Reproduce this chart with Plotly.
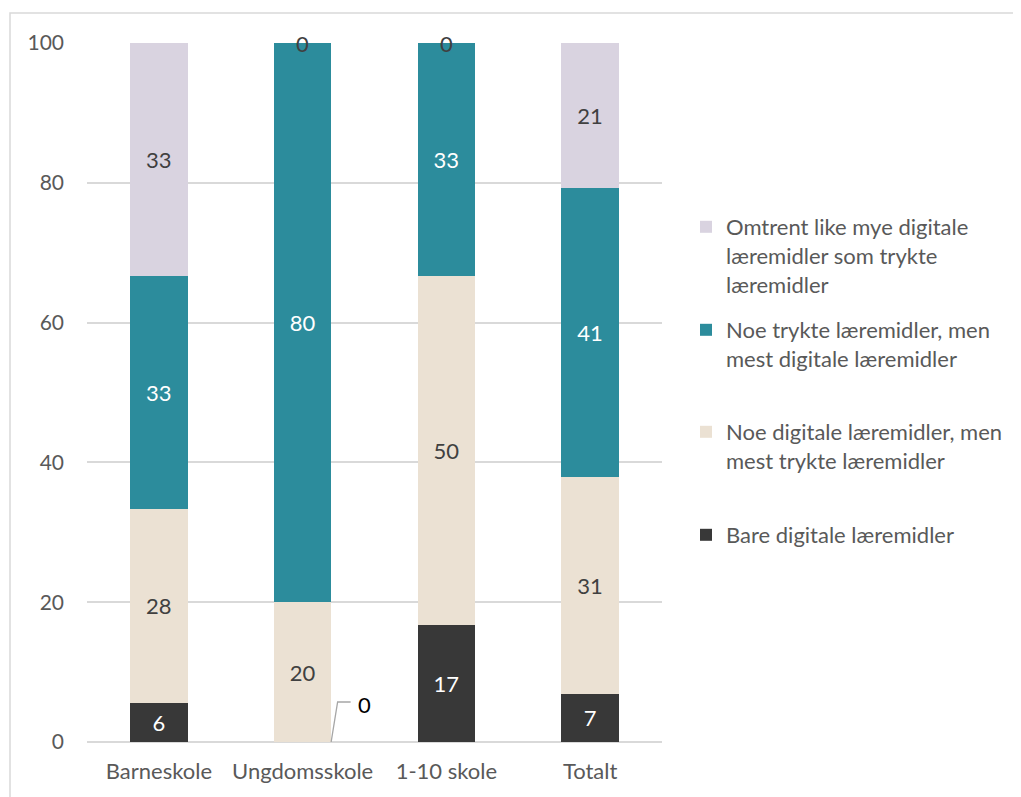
import plotly.graph_objects as go

categories = ["Barneskole", "Ungdomsskole", "1-10 skole", "Totalt"]

bare_digitale = [5.6, 0.0, 16.7, 6.9]
noe_digitale = [27.8, 20.0, 50.0, 31.0]
noe_trykte = [33.3, 80.0, 33.3, 41.4]
omtrent_like = [33.3, 0.0, 0.0, 20.7]

series_names = [
    "Bare digitale læremidler",
    "Noe digitale læremidler, men<br>mest trykte læremidler",
    "Noe trykte læremidler, men<br>mest digitale læremidler",
    "Omtrent like mye digitale<br>læremidler som trykte<br>læremidler",
]
series_values = [bare_digitale, noe_digitale, noe_trykte, omtrent_like]
series_colors = ["#383838", "#EBE1D3", "#2C8C9C", "#D9D3E0"]
label_colors = ["#FFFFFF", "#404040", "#FFFFFF", "#404040"]
legend_ids = ["legend4", "legend3", "legend2", "legend"]

FONT = "Lato"
GREY = "#595959"
OFF = 8  # page body margin

fig = go.Figure()
for name, vals, col, lcol, lid in zip(series_names, series_values, series_colors, label_colors, legend_ids):
    fig.add_trace(go.Bar(
        x=categories, y=vals, name=name,
        marker=dict(color=col, line=dict(width=0)),
        text=[f"{v:.0f}" if v > 0 else "" for v in vals],
        textposition="inside", insidetextanchor="middle", textangle=0,
        constraintext="none",
        textfont=dict(family=FONT, size=22, color=lcol),
        width=0.4, legend=lid,
    ))

# zero-value labels
cum = [0.0] * len(categories)
for si, vals in enumerate(series_values):
    for ci, v in enumerate(vals):
        if v == 0:
            if si == 0:
                fig.add_annotation(x=categories[ci], y=cum[ci], text="0", showarrow=False,
                                   xshift=62, yshift=38,
                                   font=dict(family=FONT, size=22, color="#000000"))
                fig.add_shape(type="path", xref="x", yref="y", xsizemode="pixel", ysizemode="pixel",
                              xanchor=categories[ci], yanchor=cum[ci],
                              path="M 28.5,0 L 35,40 L 48,40",
                              line=dict(color="#A6A6A6", width=1.3))
            else:
                fig.add_annotation(x=categories[ci], y=cum[ci], text="0", showarrow=False,
                                   font=dict(family=FONT, size=22, color="#404040"))
        cum[ci] += v

# outer chart border
fig.add_shape(type="rect", xref="paper", yref="paper",
              x0=(10 - 87) / 575, x1=(1019 - 87) / 575,
              y0=(742 - 810) / 699, y1=(742 - 13) / 699,
              line=dict(color="#D9D9D9", width=1.5), fillcolor="rgba(0,0,0,0)", layer="below")

def leg(ypix):
    return dict(x=(686 - 87) / 575, y=(742 - ypix) / 699, xanchor="left", yanchor="top",
                font=dict(family=FONT, size=22, color=GREY), bgcolor="rgba(0,0,0,0)",
                valign="top", itemclick=False)

fig.update_layout(
    width=1021 - OFF, height=797 - OFF,
    margin=dict(l=87 - OFF, r=359, t=43 - OFF, b=55),
    barmode="stack", plot_bgcolor="white", paper_bgcolor="white",
    font=dict(family=FONT, size=22, color=GREY),
    showlegend=True,
    legend=leg(206), legend2=leg(309), legend3=leg(411), legend4=leg(514),
    xaxis=dict(showgrid=False, showline=False, ticks="", tickfont=dict(size=22, color=GREY),
               ticklabelstandoff=14),
    yaxis=dict(range=[0, 100], tickvals=[0, 20, 40, 60, 80, 100], showgrid=True,
               gridcolor="#D9D9D9", gridwidth=1.5, zeroline=True, zerolinecolor="#D9D9D9",
               zerolinewidth=1.5, ticks="", tickfont=dict(size=21, color=GREY),
               ticklabelstandoff=22),
)

fig.write_html("out.html")
